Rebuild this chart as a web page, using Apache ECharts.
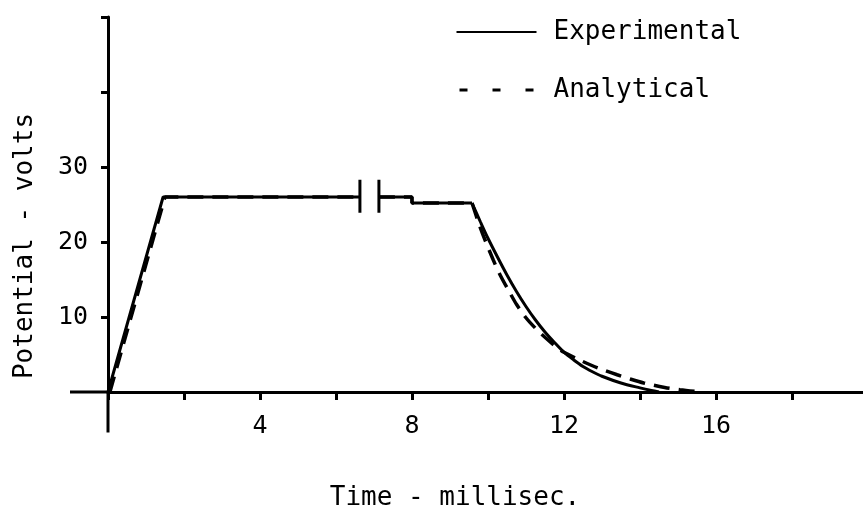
<!DOCTYPE html>
<html>
<head>
<meta charset="utf-8">
<script src="https://cdn.jsdelivr.net/npm/echarts@6.0.0/dist/echarts.min.js"></script>
<style>
html,body{margin:0;padding:0;background:#fff;}
#chart{width:863px;height:526px;}
</style>
</head>
<body>
<div id="chart"></div>
<script>
// ---- data (time in ms, potential in volts) ----
var xTickValues = [0, 2, 4, 6, 8, 10, 12, 14, 16, 18];
var xLabelValues = [4, 8, 12, 16];
var yTickValues = [10, 20, 30, 40, 50];
var yLabelValues = [10, 20, 30];

// ramp + plateau (with the break in the time axis between 6.63 and 7.13 ms)
var experimentalRise = [
  [0, 0], [1.45, 26], [6.63, 26], null,
  [7.13, 26], [8.0, 26], [8.0, 25.2], [9.58, 25.2]
];
var experimentalDecay = [
  [9.58, 25.2], [9.8, 22.7], [10.0, 20.5], [10.25, 18.0], [10.5, 15.6],
  [10.75, 13.4], [11.0, 11.4], [11.25, 9.6], [11.5, 8.0], [11.75, 6.6],
  [12.0, 5.3], [12.25, 4.3], [12.5, 3.4], [12.75, 2.7], [13.0, 2.1],
  [13.5, 1.2], [14.0, 0.55], [14.3, 0.2], [14.5, 0]
];
var analyticalRise = [
  [0.05, 0], [1.5, 26], [6.63, 26], null,
  [7.13, 26], [8.0, 26], [8.0, 25.2], [9.58, 25.2]
];
var analyticalDecay = [
  [9.58, 25.2], [9.75, 22.6], [9.92, 20.3], [10.14, 17.6], [10.32, 15.6],
  [10.58, 13.2], [10.75, 11.7], [11.0, 9.9], [11.25, 8.5], [11.5, 7.3],
  [11.75, 6.2], [12.0, 5.3], [12.4, 4.3], [12.75, 3.5], [13.06, 2.9],
  [13.4, 2.3], [13.76, 1.7], [14.1, 1.2], [14.65, 0.6], [15.05, 0.3],
  [15.45, 0.08], [15.65, 0]
];
// axis-break marks on the plateau
var breakMarks = [[6.63, 28.3], [6.63, 23.9], null, [7.13, 28.3], [7.13, 23.9]];
// axis lines extended past the origin (left of x=0, below y=0)
var xAxisExtension = [[-1, 0], [0, 0]];
var yAxisExtension = [[0, 0], [0, -5.4]];

var FONT = 'DejaVu Sans Mono';
var BLACK = '#000';
var chart = echarts.init(document.getElementById('chart'));
chart.setOption({
  animation: false,
  backgroundColor: '#ffffff',
  grid: {left: 108, right: 0, top: 17, bottom: 134},
  legend: {
    orient: 'vertical',
    left: 455, top: 19, padding: 0,
    itemWidth: 80, itemHeight: 26, itemGap: 32,
    itemStyle: {opacity: 0},
    textStyle: {fontFamily: FONT, fontSize: 26, color: BLACK, padding: [0, 0, 0, 12]},
    data: [
      {name: 'Experimental'},
      {name: 'Analytical', lineStyle: {type: [8, 25], dashOffset: -3, width: 3}}
    ]
  },
  xAxis: {
    type: 'value', min: 0, max: 19.87,
    axisLine: {onZero: false, lineStyle: {color: BLACK, width: 3}},
    axisTick: {show: true, length: 8, customValues: xTickValues, lineStyle: {color: BLACK, width: 3}},
    axisLabel: {customValues: xLabelValues, margin: 22, fontFamily: FONT, fontSize: 25, color: BLACK},
    splitLine: {show: false}
  },
  yAxis: {
    type: 'value', min: 0, max: 50,
    axisLine: {onZero: false, lineStyle: {color: BLACK, width: 3}},
    axisTick: {show: true, length: 7, customValues: yTickValues, lineStyle: {color: BLACK, width: 3}},
    axisLabel: {customValues: yLabelValues, margin: 20, fontFamily: FONT, fontSize: 25, color: BLACK},
    splitLine: {show: false}
  },
  graphic: [
    {type: 'text', x: 25, y: 246, rotation: Math.PI / 2,
     style: {text: 'Potential - volts', fontFamily: FONT, fontSize: 26, fill: BLACK, align: 'center', verticalAlign: 'middle'}},
    {type: 'text', x: 455, y: 498,
     style: {text: 'Time - millisec.', fontFamily: FONT, fontSize: 26, fill: BLACK, align: 'center', verticalAlign: 'middle'}}
  ],
  series: [
    {name: 'yAxisExt', type: 'line', data: yAxisExtension, symbol: 'none', clip: false, silent: true, z: 1,
     lineStyle: {color: BLACK, width: 3}},
    {name: 'Analytical', type: 'line', data: analyticalRise, symbol: 'none', connectNulls: false, z: 2,
     lineStyle: {color: BLACK, width: 3.5, type: [16, 9]}, itemStyle: {color: BLACK}},
    {name: 'Analytical', type: 'line', data: analyticalDecay, symbol: 'none', smooth: 0.3, z: 2,
     lineStyle: {color: BLACK, width: 3.5, type: [16, 9]}, itemStyle: {color: BLACK}},
    {name: 'Experimental', type: 'line', data: experimentalRise, symbol: 'none', connectNulls: false, z: 3,
     lineStyle: {color: BLACK, width: 3}, itemStyle: {color: BLACK}},
    {name: 'Experimental', type: 'line', data: experimentalDecay, symbol: 'none', smooth: 0.3, z: 3,
     lineStyle: {color: BLACK, width: 3}, itemStyle: {color: BLACK}},
    {name: 'break', type: 'line', data: breakMarks, symbol: 'none', connectNulls: false, z: 3, silent: true,
     lineStyle: {color: BLACK, width: 3}}
  ]
});

// extend the time axis line to the left of the origin, placed through the chart's own scale
var p0 = chart.convertToPixel({gridIndex: 0}, xAxisExtension[0]);
var p1 = chart.convertToPixel({gridIndex: 0}, xAxisExtension[1]);
chart.setOption({
  graphic: [
    {type: 'text', x: 25, y: 246, rotation: Math.PI / 2,
     style: {text: 'Potential - volts', fontFamily: FONT, fontSize: 26, fill: BLACK, align: 'center', verticalAlign: 'middle'}},
    {type: 'text', x: 455, y: 498,
     style: {text: 'Time - millisec.', fontFamily: FONT, fontSize: 26, fill: BLACK, align: 'center', verticalAlign: 'middle'}},
    {type: 'line', silent: true, z: 1,
     shape: {x1: p0[0], y1: p0[1], x2: p1[0], y2: p1[1]},
     style: {stroke: BLACK, lineWidth: 3}}
  ]
});
</script>
</body>
</html>
